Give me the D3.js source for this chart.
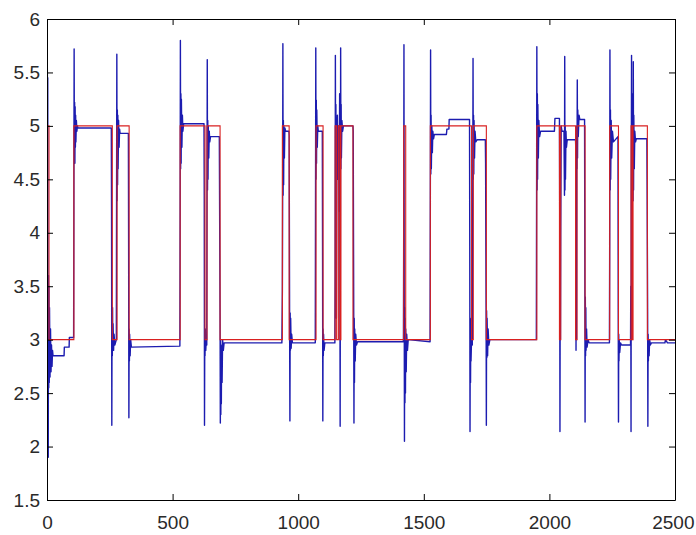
<!DOCTYPE html>
<html>
<head>
<meta charset="utf-8">
<script src="https://cdn.jsdelivr.net/npm/d3@7"></script>
<style>
  html, body { margin: 0; padding: 0; background: #ffffff; }
  svg { display: block; }
  .tick text { font-family: "Liberation Sans", Arial, sans-serif; }
</style>
</head>
<body>
<div id="chart"></div>
<script>
// ---- data ----
const xTicks = [0, 500, 1000, 1500, 2000, 2500];
const yTicks = [1.5, 2, 2.5, 3, 3.5, 4, 4.5, 5, 5.5, 6];
const xTickLabels = ["0", "500", "1000", "1500", "2000", "2500"];
const yTickLabels = ["1.5", "2", "2.5", "3", "3.5", "4", "4.5", "5", "5.5", "6"];

// reference (set-point) step signal: [sample, value], held until next breakpoint
const referenceSteps = [
  [0,5],[8,3],[107,5],[260,3],[279,5],[327,3],[530,5],[629,3],[637,5],[689,3],
  [937,5],[964,3],[1071,5],[1099,3],[1147,5],[1153,3],[1160,5],[1166,3],[1170,5],[1218,3],
  [1420,5],[1428,3],[1526,5],[1690,3],[1697,5],[1749,3],[1950,5],[2040,3],[2045,5],
  [2104,3],[2110,5],[2142,3],[2240,5],[2275,3],[2325,5],[2330,3],[2333,5],[2390,3],[2500,3]
];

// measured response: [sample, value]
const responseX = [
  0,1,2,3,4,5,6,7,8,9,10,12,14,16,18,20,22,24,68,69,88,89,106,
  107,108,109,110,111,112,113,114,115,117,119,121,123,256,
  257,258,259,260,261,262,263,265,267,270,276,
  277,278,279,280,281,282,283,285,287,289,291,324,
  325,326,327,328,329,331,333,336,529,
  530,531,532,533,534,535,537,539,541,544,625,
  626,627,628,629,630,632,634,636,
  637,638,639,640,641,642,644,646,648,651,686,
  689,690,691,692,693,694,695,697,699,702,705,935,
  937,938,939,940,941,942,943,945,947,950,963,
  964,966,967,968,969,970,972,974,977,1068,
  1069,1070,1071,1072,1073,1074,1076,1078,1080,1096,
  1097,1098,1099,1100,1101,1103,1106,1146,
  1147,1148,1149,1150,1151,1152,1154,1156,1158,1160,1163,1165,1167,1169,1170,1171,1172,1174,1177,1180,1218,
  1219,1221,1222,1223,1224,1225,1227,1229,1232,1236,1418,
  1419,1420,1421,1422,1423,1424,1425,1426,1427,1428,1430,1432,1435,1438,1525,
  1526,1527,1528,1529,1530,1532,1534,1536,1539,1542,1590,1592,1600,1601,1682,
  1683,1684,1685,1686,1687,1688,1690,1693,
  1695,1696,1697,1698,1699,1700,1702,1704,1707,1712,1745,
  1746,1748,1749,1750,1751,1752,1754,1756,1759,1763,1948,
  1949,1950,1951,1952,1953,1954,1956,1958,1961,1965,2020,2022,2040,
  2041,2042,2043,2044,2045,2047,2050,2058,2060,2061,2062,2063,2064,2066,2068,2071,2104,
  2105,2106,2107,2108,2109,2110,2111,2112,2113,2115,2118,2121,2140,
  2141,2142,2143,2144,2145,2146,2148,2150,2154,2158,2239,
  2240,2241,2242,2243,2244,2246,2248,2251,2255,2273,
  2274,2275,2276,2277,2278,2280,2283,2287,2323,
  2324,2325,2326,2327,2328,2329,2331,2333,2334,2335,2336,2338,2340,2343,2346,2388,
  2389,2391,2392,2393,2394,2395,2397,2399,2402,2406,2460,2462,2470,2500
];
const responseY = [
  5.0,5.62,5.3,5.45,3.0,1.9,3.6,2.55,3.5,2.6,3.3,2.65,3.1,2.7,2.95,2.75,2.9,2.85,2.85,2.93,2.93,3.02,3.02,
  4.25,5.72,4.7,5.22,4.65,5.18,4.8,5.1,4.85,5.05,4.95,5.0,4.98,4.98,
  4.2,2.2,3.25,2.85,3.3,2.9,3.15,2.9,3.05,2.95,3.0,
  4.3,5.67,4.3,5.15,4.45,5.1,4.6,5.05,4.8,4.97,4.93,4.93,
  3.82,2.27,3.1,2.8,3.05,2.85,3.0,2.93,2.94,
  4.15,5.8,4.6,5.3,4.65,5.25,4.8,5.1,4.95,5.02,5.02,
  4.35,2.2,3.0,2.85,3.1,2.9,3.0,2.95,
  4.35,5.62,4.4,5.05,4.5,5.0,4.7,4.95,4.85,4.9,4.9,
  3.23,2.22,3.0,2.3,2.95,2.4,2.9,2.6,3.0,2.9,2.97,2.97,
  3.46,4.3,5.77,4.35,5.05,4.45,5.0,4.7,4.98,4.95,4.95,
  4.91,3.0,2.24,3.25,2.9,3.2,2.92,3.05,2.97,2.97,
  4.28,5.73,4.5,5.24,4.65,5.15,4.8,5.0,4.95,4.95,
  3.81,2.24,3.1,2.85,3.05,2.9,2.97,2.97,
  3.6,5.66,4.4,5.2,4.6,3.2,4.8,5.1,4.5,5.0,4.2,5.3,2.19,5.73,4.6,5.2,4.7,5.05,4.95,5.0,5.0,
  4.95,3.26,2.22,3.2,2.6,3.1,2.8,3.05,2.95,2.98,2.98,
  3.0,4.0,5.76,3.5,2.05,3.3,2.41,3.2,2.5,3.1,2.7,3.05,2.9,3.0,2.98,
  4.31,5.71,4.55,5.1,4.6,5.0,4.75,4.95,4.88,4.92,4.92,4.97,4.97,5.06,5.06,
  3.87,2.14,3.2,2.6,3.1,2.8,3.0,2.95,
  4.43,5.63,4.5,5.1,4.55,5.05,4.7,4.95,4.85,4.87,4.87,
  4.65,3.3,2.2,3.27,2.83,3.2,2.85,3.1,2.95,3.0,3.0,
  4.31,5.74,4.4,5.3,4.5,5.2,4.7,5.05,4.9,4.95,4.95,5.07,5.07,
  4.2,2.14,3.5,3.0,4.0,5.0,4.95,4.95,4.35,5.65,4.4,5.0,4.5,4.95,4.8,4.87,4.87,
  4.8,2.9,4.9,3.0,5.0,4.6,5.43,4.7,5.15,4.9,5.1,5.06,5.06,
  3.87,2.23,3.4,2.85,3.3,2.9,3.1,2.93,3.0,2.97,2.97,
  3.88,5.71,4.4,5.15,4.5,5.05,4.7,4.95,4.85,4.9,
  3.26,2.23,3.05,2.8,3.0,2.88,2.97,2.95,2.95,
  3.5,2.14,4.5,5.66,3.0,4.0,5.3,4.3,5.6,4.4,5.1,4.6,4.95,4.85,4.88,4.88,
  4.4,3.26,2.19,3.05,2.8,3.0,2.85,3.0,2.95,2.97,2.97,3.0,2.97,2.97
];

// ---- layout ----
const W = 696, H = 535;
const plot = { left: 47, right: 675, top: 19, bottom: 500 };

const svg = d3.select("#chart").append("svg")
  .attr("width", W).attr("height", H);

const x = d3.scaleLinear().domain([0, 2500]).range([plot.left, plot.right]);
const y = d3.scaleLinear().domain([1.5, 6]).range([plot.bottom, plot.top]);

svg.append("rect")
  .attr("x", plot.left).attr("y", plot.top)
  .attr("width", plot.right - plot.left).attr("height", plot.bottom - plot.top)
  .attr("fill", "#ffffff");

svg.append("clipPath").attr("id", "clip").append("rect")
  .attr("x", plot.left).attr("y", plot.top)
  .attr("width", plot.right - plot.left).attr("height", plot.bottom - plot.top);

const g = svg.append("g").attr("clip-path", "url(#clip)");

const response = responseX.map((v, i) => [v, responseY[i]]);

g.append("path")
  .datum(response)
  .attr("fill", "none")
  .attr("stroke", "#1c1cb0")
  .attr("stroke-width", 1.4)
  .attr("stroke-linejoin", "round")
  .attr("d", d3.line().x(d => x(d[0])).y(d => y(d[1])));

g.append("path")
  .datum(referenceSteps)
  .attr("fill", "none")
  .attr("stroke", "#d92020")
  .attr("stroke-width", 1.1)
  .attr("d", d3.line().curve(d3.curveStepAfter).x(d => x(d[0])).y(d => y(d[1])));

// axes (MATLAB-like box with inward ticks)
const tickLen = 6;
const fontSize = 19;

const xAxisBottom = d3.axisBottom(x).tickValues(xTicks)
  .tickFormat((d, i) => xTickLabels[i]).tickSizeInner(-tickLen).tickSizeOuter(0).tickPadding(tickLen + 10);
const xAxisTop = d3.axisTop(x).tickValues(xTicks).tickFormat("").tickSizeInner(-tickLen).tickSizeOuter(0);
const yAxisLeft = d3.axisLeft(y).tickValues(yTicks)
  .tickFormat((d, i) => yTickLabels[i]).tickSizeInner(-tickLen).tickSizeOuter(0).tickPadding(tickLen + 1);
const yAxisRight = d3.axisRight(y).tickValues(yTicks).tickFormat("").tickSizeInner(-tickLen).tickSizeOuter(0);

function style(sel) {
  sel.select(".domain").attr("stroke", "#000").attr("stroke-width", 1);
  sel.selectAll(".tick line").attr("stroke", "#000").attr("stroke-width", 1);
  sel.selectAll(".tick text").attr("fill", "#2a2a2a").style("font-size", fontSize + "px");
}

const xb = svg.append("g").attr("transform", `translate(0,${plot.bottom})`).call(xAxisBottom).call(style);
// keep the last label fully inside the window
xb.selectAll(".tick text").filter(d => d === 2500).attr("text-anchor", "end").attr("dx", "1.0em");
svg.append("g").attr("transform", `translate(0,${plot.top})`).call(xAxisTop).call(style);
svg.append("g").attr("transform", `translate(${plot.left},0)`).call(yAxisLeft).call(style);
svg.append("g").attr("transform", `translate(${plot.right},0)`).call(yAxisRight).call(style);
</script>
</body>
</html>
